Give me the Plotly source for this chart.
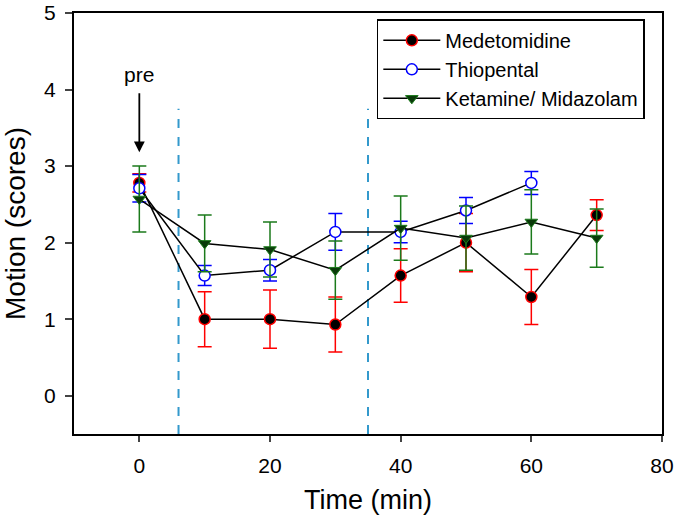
import plotly.graph_objects as go

time = [0, 10, 20, 30, 40, 50, 60, 70]
med = [2.78, 1.0, 1.0, 0.93, 1.57, 2.0, 1.29, 2.36]
med_err = [0.12, 0.36, 0.38, 0.36, 0.35, 0.38, 0.36, 0.2]

thio_time = [0, 10, 20, 30, 40, 50, 60]
thio = [2.71, 1.57, 1.64, 2.14, 2.14, 2.42, 2.78]
thio_err = [0.18, 0.13, 0.14, 0.24, 0.14, 0.17, 0.15]

ket = [2.57, 1.99, 1.91, 1.64, 2.19, 2.06, 2.27, 2.06]
ket_err = [0.43, 0.37, 0.36, 0.38, 0.42, 0.42, 0.42, 0.38]

phase_lines = [6, 35]
x_ticks = [0, 20, 40, 60, 80]
y_ticks = [0, 1, 2, 3, 4, 5]

FONT = "Liberation Sans, Arial, sans-serif"

fig = go.Figure()

fig.add_trace(go.Scatter(
    x=time, y=med, name="Medetomidine", mode="lines+markers",
    line=dict(color="black", width=1.5),
    marker=dict(symbol="circle", size=11, color="black", line=dict(color="red", width=1.5)),
    error_y=dict(type="data", array=med_err, color="red", thickness=1.5, width=7),
))
fig.add_trace(go.Scatter(
    x=thio_time, y=thio, name="Thiopental", mode="lines+markers",
    line=dict(color="black", width=1.5),
    marker=dict(symbol="circle", size=11, color="white", line=dict(color="blue", width=1.5)),
    error_y=dict(type="data", array=thio_err, color="blue", thickness=1.5, width=7),
))
fig.add_trace(go.Scatter(
    x=time, y=ket, name="Ketamine/ Midazolam", mode="lines+markers",
    line=dict(color="black", width=1.5),
    marker=dict(symbol="triangle-down", size=11, color="#0a3a0a", line=dict(color="#1b7a1b", width=1)),
    error_y=dict(type="data", array=ket_err, color="#1b7a1b", thickness=1.5, width=7),
))

for xv in phase_lines:
    fig.add_shape(type="line", x0=xv, x1=xv, y0=-0.5, y1=3.75, xref="x", yref="y",
                  line=dict(color="#3399cc", width=2, dash="dash"), layer="below")

fig.add_annotation(x=0, y=3.18, ax=0, ay=3.97, xref="x", yref="y", axref="x", ayref="y",
                   showarrow=True, arrowhead=2, arrowsize=1.2, arrowwidth=1.8, arrowcolor="black", text="")
fig.add_annotation(x=0, y=4.2, xref="x", yref="y", text="pre", showarrow=False,
                   font=dict(family=FONT, size=21, color="black"))

fig.update_layout(
    width=675, height=523,
    margin=dict(l=74, r=13, t=13, b=89),
    plot_bgcolor="white", paper_bgcolor="white",
    font=dict(family=FONT, size=21, color="black"),
    legend=dict(x=0.515, y=0.985, xanchor="left", yanchor="top",
                bordercolor="black", borderwidth=1.5, bgcolor="white",
                font=dict(family=FONT, size=20), tracegroupgap=0, itemwidth=57),
    showlegend=True,
)
fig.update_xaxes(range=[-10, 80], tickvals=x_ticks, ticks="outside", ticklen=6, tickwidth=1.5,
                 showline=True, linecolor="black", linewidth=2, mirror=True, showgrid=False,
                 zeroline=False, automargin=False, ticklabelstandoff=6, ticklabeloverflow="allow",
                 title=dict(text="Time (min)", font=dict(size=27), standoff=14))
fig.update_yaxes(range=[-0.5, 5], tickvals=y_ticks, ticks="outside", ticklen=7, tickwidth=1.5,
                 showline=True, linecolor="black", linewidth=2, mirror=True, showgrid=False,
                 zeroline=False, automargin=False, ticklabelstandoff=5, ticklabeloverflow="allow",
                 title=dict(text="Motion (scores)", font=dict(size=28), standoff=20))

fig.write_html("out.html", config={"displayModeBar": False},
               post_script="document.body.style.margin='0';document.body.style.overflow='hidden';")
